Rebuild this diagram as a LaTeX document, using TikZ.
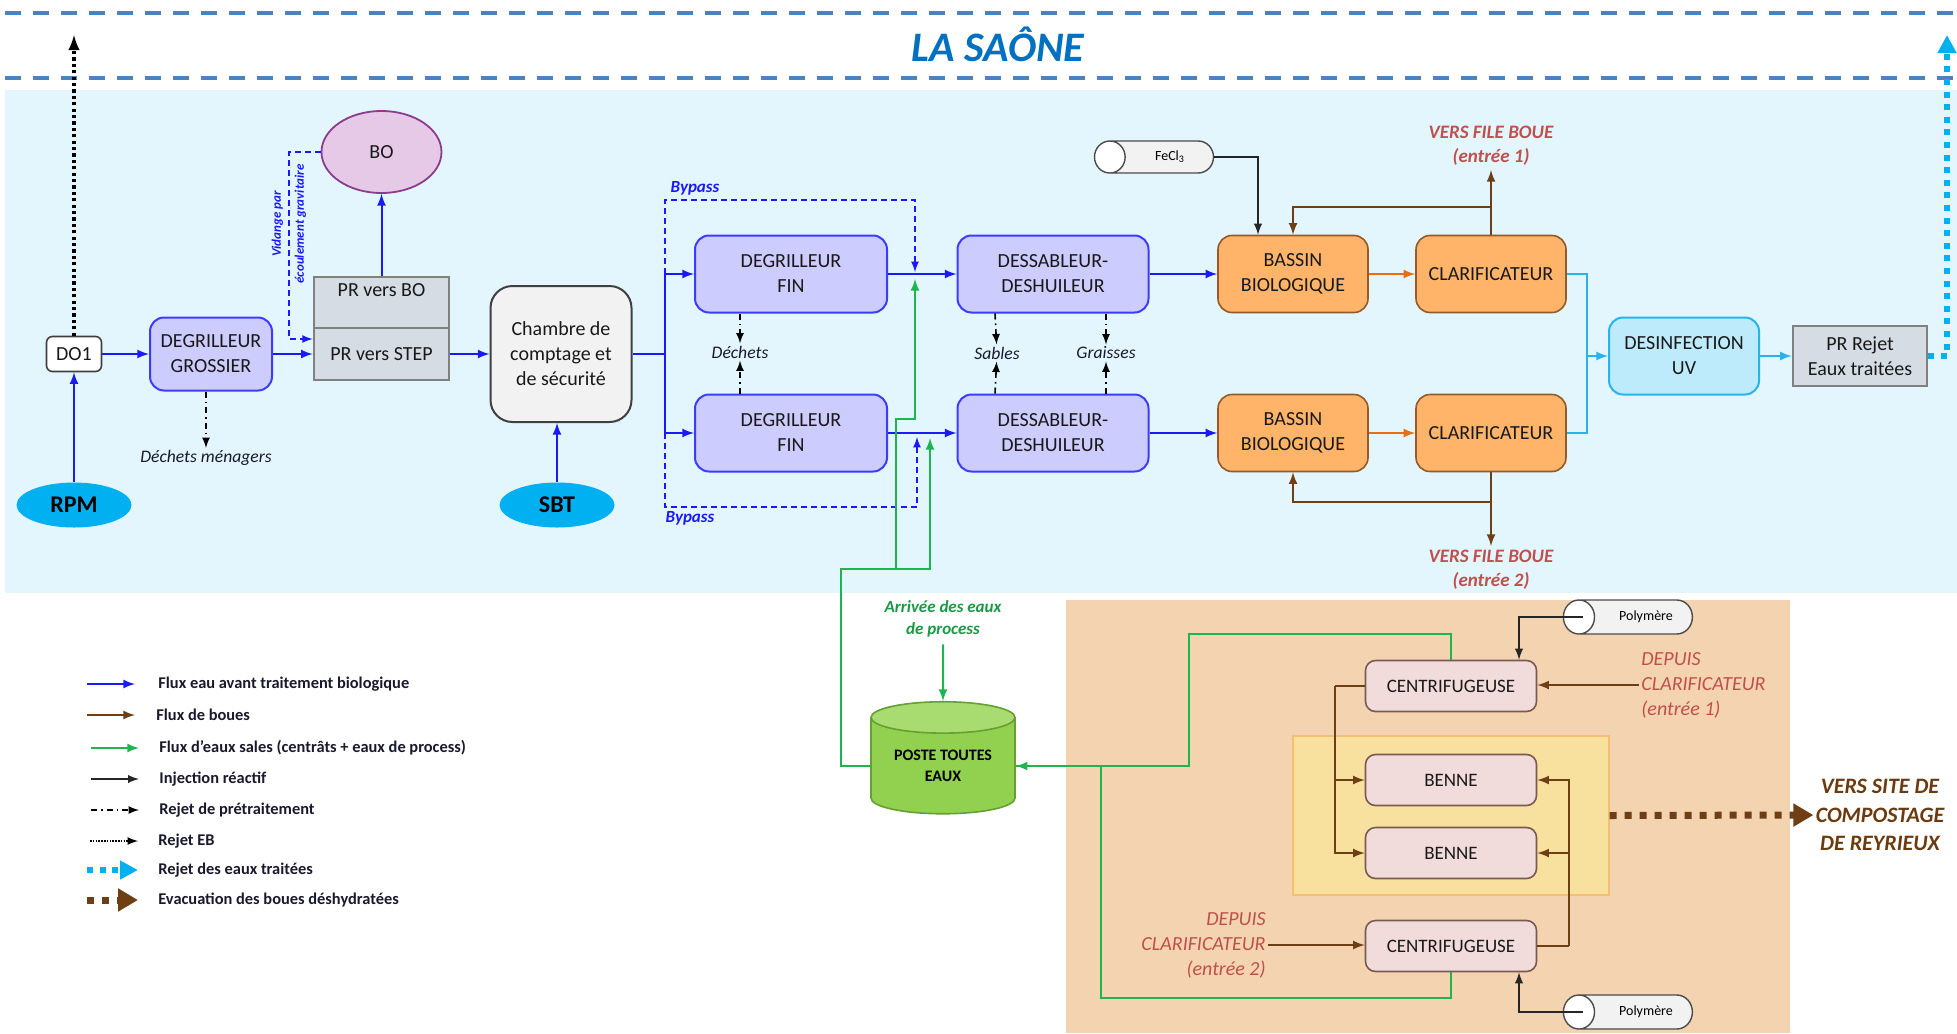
\documentclass[tikz,border=0pt]{standalone}
\usepackage{fontspec}
\setmainfont{Carlito}
\usepackage{xcolor}
\usetikzlibrary{shapes.geometric,arrows,arrows.meta}

\definecolor{bleuflux}{RGB}{25,25,250}
\definecolor{blocfill}{RGB}{204,204,255}
\definecolor{blocdraw}{RGB}{60,60,255}
\definecolor{orfill}{RGB}{255,180,105}
\definecolor{ordraw}{RGB}{150,90,40}
\definecolor{orfleche}{RGB}{230,110,20}
\definecolor{brunboue}{RGB}{110,62,20}
\definecolor{cyantrait}{RGB}{40,180,235}
\definecolor{uvfill}{RGB}{190,235,252}
\definecolor{grisfill}{RGB}{214,220,228}
\definecolor{grisdraw}{RGB}{128,128,128}
\definecolor{fondciel}{RGB}{227,246,253}
\definecolor{peche}{RGB}{244,211,176}
\definecolor{zonefill}{RGB}{248,224,158}
\definecolor{zonedraw}{RGB}{242,192,110}
\definecolor{vertsale}{RGB}{30,180,80}
\definecolor{cuvefill}{RGB}{146,208,80}
\definecolor{cuvetop}{RGB}{169,220,112}
\definecolor{cuvedraw}{RGB}{100,160,50}
\definecolor{rosefill}{RGB}{242,220,219}
\definecolor{rosedraw}{RGB}{120,90,80}
\definecolor{rougetxt}{RGB}{192,80,77}
\definecolor{riviere}{RGB}{0,176,240}
\definecolor{bofill}{RGB}{230,201,230}
\definecolor{bodraw}{RGB}{140,60,140}
\definecolor{saonetrait}{RGB}{79,129,189}
\definecolor{saonetxt}{RGB}{0,112,192}
\definecolor{compostxt}{RGB}{107,58,14}
\definecolor{legtxt}{RGB}{25,25,45}

\tikzset{
	>=latex,
	eau/.style={->, draw=bleuflux, line width=1pt},
	boue/.style={->, draw=brunboue, line width=1pt},
	boueor/.style={->, draw=orfleche, line width=1pt},
	sale/.style={->, draw=vertsale, line width=1pt},
	reactif/.style={->, draw=black!85, line width=0.9pt},
	traitee/.style={draw=cyantrait, line width=1pt},
	pretrait/.style={->, draw=black, line width=0.8pt, dash pattern=on 3pt off 2pt on 0.8pt off 2pt},
	rejeteb/.style={->, draw=black, line width=1.6pt, dash pattern=on 1.6pt off 1.6pt},
	rejet/.style={-{Triangle[length=9pt,width=9pt]}, draw=riviere, line width=3pt, dash pattern=on 3pt off 3.3pt},
	evac/.style={-{Triangle[length=10pt,width=11pt]}, draw=brunboue, line width=3.5pt, dash pattern=on 3.5pt off 4pt},
	bypass/.style={->, draw=bleuflux, line width=0.8pt, dash pattern=on 3pt off 2pt},
	saone/.style={draw=saonetrait, line width=2pt, dash pattern=on 8pt off 6pt},
	txt/.style={font=\fontsize{10}{12.5}\selectfont, align=center, text=black!90},
	bloc/.style={txt, draw=blocdraw, fill=blocfill, line width=1pt, rounded corners=7pt},
	bassin/.style={txt, draw=ordraw, fill=orfill, line width=0.8pt, rounded corners=7pt, minimum width=75pt, minimum height=38.5pt},
	uvbloc/.style={txt, draw=cyantrait, fill=uvfill, line width=1pt, rounded corners=7pt},
	prbloc/.style={txt, draw=grisdraw, fill=grisfill, line width=1.3pt, minimum width=67.5pt, inner sep=1pt},
	centri/.style={txt, font=\fontsize{9.5}{12}\selectfont, draw=rosedraw, fill=rosefill, line width=0.8pt, rounded corners=5pt, minimum width=85.5pt, minimum height=25.5pt},
	riv/.style={ellipse, fill=riviere, minimum width=57.5pt, minimum height=22.5pt, inner sep=0pt, font=\fontsize{12}{14}\selectfont\bfseries},
	reservoir/.style={cylinder, shape border rotate=180, aspect=2.6, draw=black!70, line width=0.7pt, cylinder uses custom fill, cylinder body fill=black!5, cylinder end fill=white, font=\fontsize{7}{8}\selectfont, inner sep=0pt},
	sousprod/.style={font=\fontsize{8.8}{10}\selectfont\itshape, text=legtxt, inner sep=1pt},
	versboue/.style={font=\fontsize{9.5}{12}\selectfont\bfseries\itshape, text=rougetxt, align=center, inner sep=2pt},
	depuis/.style={font=\fontsize{10}{12.5}\selectfont\itshape, text=rougetxt, inner sep=1pt},
	bplabel/.style={font=\fontsize{8.5}{10}\selectfont\bfseries\itshape, text=bleuflux},
	legende/.style={anchor=west, font=\fontsize{8.2}{9}\selectfont\bfseries, text=legtxt, inner sep=0pt}
}

\begin{document}
\begin{tikzpicture}[x=0.5pt, y=-0.5pt]
	\useasboundingbox (0,0) rectangle (1957,1033);
	% fonds
	\fill[fondciel] (5,90) rectangle (1957,593);
	\fill[peche] (1066,600) rectangle (1790,1033);
	\draw[saone] (5,13) -- (1957,13);
	\draw[saone] (5,78) -- (1957,78);
	\node[font=\fontsize{21}{24}\selectfont\bfseries\itshape, text=saonetxt] (lasaone) at (998,44) {LA SAÔNE};
	\coordinate (saone1) at (74,35);
	\coordinate (saone2) at (1947,35);

	% pretraitement
	\node[txt, draw=black!75, fill=white, line width=0.8pt, rounded corners=3pt, minimum width=27.5pt, minimum height=17.5pt, inner sep=1pt] (do1) at (74,354) {DO1};
	\node[riv] (rpm) at (74,505) {RPM};
	\node[riv] (sbt) at (557,505) {SBT};
	\node[bloc, minimum width=61pt, minimum height=36.5pt] (grossier) at (211,354) {DEGRILLEUR\\GROSSIER};
	\node[prbloc, minimum height=25.5pt, text depth=12pt] (prbo) at (381.5,302.5) {PR vers BO};
	\node[prbloc, minimum height=26pt] (prstep) at (381.5,354) {PR vers STEP};
	\node[txt, ellipse, draw=bodraw, fill=bofill, line width=0.9pt, minimum width=60pt, minimum height=41pt] (bo) at (381.5,152) {BO};
	\node[txt, draw=black!75, fill=black!5, line width=1pt, rounded corners=11pt, minimum width=70.5pt, minimum height=68pt] (chambre) at (561,354) {Chambre de\\comptage et\\de sécurité};
	\node[rotate=90, font=\fontsize{6.5}{11.5}\selectfont\bfseries\itshape, text=bleuflux, align=center] (vidange) at (289,224) {Vidange par\\écoulement gravitaire};
	\node[sousprod] (dechmen) at (206,458) {Déchets ménagers};
	\coordinate (vidh) at (289,152);

	\draw[rejeteb] (do1) -- (saone1);
	\draw[eau] (rpm) -- (do1);
	\draw[eau] (do1) -- (grossier);
	\draw[eau] (grossier.east) -- (grossier.east -| prstep.west);
	\draw[pretrait] (grossier.south -| dechmen) -- (dechmen);
	\draw[eau] (prbo) -- (bo);
	\draw[bypass] (bo.west) -- (vidh) |- ([yshift=7.5pt]prstep.west);
	\draw[eau] (prstep) -- (chambre);
	\draw[eau] (sbt) -- (sbt |- chambre.south);

	% degrilleurs et dessableurs
	\node[bloc, minimum width=96pt, minimum height=38.5pt] (fin1) at (791,274) {DEGRILLEUR\\FIN};
	\node[bloc, minimum width=96pt, minimum height=38.5pt] (fin2) at (791,433) {DEGRILLEUR\\FIN};
	\node[bloc, minimum width=95.5pt, minimum height=38.5pt] (dess1) at (1053,274) {DESSABLEUR-\\DESHUILEUR};
	\node[bloc, minimum width=95.5pt, minimum height=38.5pt] (dess2) at (1053,433) {DESSABLEUR-\\DESHUILEUR};
	\node[sousprod] (dechets) at (740,352) {Déchets};
	\node[sousprod] (sables) at (997,353) {Sables};
	\node[sousprod] (graisses) at (1106,353) {Graisses};
	\node[bplabel] (bypass1) at (695,188) {Bypass};
	\node[bplabel] (bypass2) at (690,518) {Bypass};
	\coordinate (nd) at (665,354);
	\coordinate (nh) at (665,274);
	\coordinate (nb) at (665,433);
	\coordinate (bp1) at (915,272);
	\coordinate (bp2) at (917,437);

	\draw[eau, -] (chambre.east) -- (nd);
	\draw[eau, -] (nh) -- (nb);
	\draw[eau] (nh) -- (fin1);
	\draw[eau] (nb) -- (fin2);
	\draw[bypass] (nh) -- ++(0,-74) -| (bp1);
	\draw[bypass] (nb) -- ++(0,74) -| (bp2);
	\draw[eau] (fin1) -- (dess1);
	\draw[eau] (fin2) -- (dess2);
	\draw[pretrait] (fin1.south -| dechets) -- (dechets);
	\draw[pretrait] (fin2.north -| dechets) -- (dechets);
	\draw[pretrait] ([xshift=-1pt]dess1.south -| sables) -- (sables);
	\draw[pretrait] ([xshift=-1pt]dess2.north -| sables) -- (sables);
	\draw[pretrait] (dess1.south -| graisses) -- (graisses);
	\draw[pretrait] (dess2.north -| graisses) -- (graisses);

	% biologie
	\node[bassin] (bassin1) at (1293,274) {BASSIN\\BIOLOGIQUE};
	\node[bassin] (bassin2) at (1293,433) {BASSIN\\BIOLOGIQUE};
	\node[bassin] (clar1) at (1491,274) {CLARIFICATEUR};
	\node[bassin] (clar2) at (1491,433) {CLARIFICATEUR};
	\node[reservoir, minimum width=16pt, minimum height=59.5pt] (fecl) at (1162,157) {\hspace{8pt}FeCl\textsubscript{3}};
	\node[versboue] (vfb1) at (1491,146) {VERS FILE BOUE\\(entrée 1)};
	\node[versboue] (vfb2) at (1491,570) {VERS FILE BOUE\\(entrée 2)};
	\node[uvbloc, minimum width=75pt, minimum height=38.5pt] (desinf) at (1684,356) {DESINFECTION\\UV};
	\node[prbloc, minimum width=67pt, minimum height=30pt] (prrejet) at (1860,356) {PR Rejet\\Eaux traitées};
	\coordinate (rb1) at (1491,207);
	\coordinate (rb2) at (1491,502);
	\coordinate (cj) at (1587,356);

	\draw[eau] (dess1) -- (bassin1);
	\draw[eau] (dess2) -- (bassin2);
	\draw[reactif] (fecl.east) -| ([xshift=-17.5pt]bassin1.north);
	\draw[boueor] (bassin1) -- (clar1);
	\draw[boueor] (bassin2) -- (clar2);
	\draw[boue] (clar1) -- (vfb1);
	\draw[boue] (rb1) -| (bassin1);
	\draw[boue] (clar2) -- (vfb2);
	\draw[boue] (rb2) -| (bassin2);
	\draw[traitee] (clar1.east) -| (cj) |- (clar2.east);
	\draw[traitee, ->] (cj) -- (desinf);
	\draw[traitee, ->] (desinf) -- (prrejet);
	\draw[rejet] (prrejet.east) -| (saone2);

	% eaux sales
	\node[font=\fontsize{8.5}{11}\selectfont\bfseries\itshape, text=vertsale!85!black, align=center] (arrivee) at (943,619) {Arrivée des eaux\\de process};
	\node[cylinder, shape border rotate=90, aspect=0.32, draw=cuvedraw, line width=0.8pt, cylinder uses custom fill, cylinder body fill=cuvefill, cylinder end fill=cuvetop, minimum width=72pt, minimum height=56pt, font=\fontsize{8}{10.5}\selectfont\bfseries, align=center, inner sep=0pt] (poste) at (943,766) {POSTE TOUTES\\EAUX};
	\coordinate (gs) at (896,569);
	\coordinate (gin1) at (915,279);
	\coordinate (gin2) at (930,438);
	\coordinate (gh) at (1189,634);
	\coordinate (gb) at (1101,998);

	\draw[sale] (arrivee) -- (poste);
	\draw[sale, -] (poste.west) -- ++(-29,0) |- (gs);
	\draw[sale] (gs) -- ++(0,-150) -| (gin1);
	\draw[sale] (gs) -| (gin2);

	% deshydratation
	\node[draw=zonedraw, fill=zonefill, line width=0.6pt, minimum width=158pt, minimum height=79.5pt] (zone) at (1451,815.5) {};
	\node[centri] (cen1) at (1451,686) {CENTRIFUGEUSE};
	\node[centri] (benne1) at (1451,780) {BENNE};
	\node[centri] (benne2) at (1451,853) {BENNE};
	\node[centri] (cen2) at (1451,946) {CENTRIFUGEUSE};
	\node[reservoir, minimum width=17pt, minimum height=64.5pt] (poly1) at (1636,617) {\hspace{10pt}Polymère};
	\node[reservoir, minimum width=17pt, minimum height=64.5pt] (poly2) at (1636,1012) {\hspace{10pt}Polymère};
	\node[depuis, anchor=west, align=left] (dep1) at (1639,685) {DEPUIS\\CLARIFICATEUR\\(entrée 1)};
	\node[depuis, anchor=east, align=right] (dep2) at (1268,945) {DEPUIS\\CLARIFICATEUR\\(entrée 2)};
	\node[font=\fontsize{11}{14.3}\selectfont\bfseries\itshape, text=compostxt, align=center, inner sep=1pt] (compost) at (1880,815) {VERS SITE DE\\COMPOSTAGE\\DE REYRIEUX};
	\coordinate (bg) at (1335,686);
	\coordinate (bd) at (1569,946);

	\draw[sale] (cen1.north) |- (gh) |- (poste);
	\draw[sale, -] (cen2.south) |- (gb) |- (poste.east);
	\draw[reactif] ([xshift=10pt]poly1.west) -| ([xshift=34pt]cen1.north);
	\draw[reactif] ([xshift=10pt]poly2.west) -| ([xshift=34pt]cen2.south);
	\draw[boue] (dep1.west) -- (dep1.west -| cen1.east);
	\draw[boue] (dep2.east) -- (dep2.east -| cen2.west);
	\draw[boue, -] (cen1.west) -- (bg);
	\draw[boue] (bg) |- (benne1);
	\draw[boue] (bg) |- (benne2);
	\draw[boue, -] (cen2.east) -- (bd);
	\draw[boue] (bd) |- (benne1);
	\draw[boue] (bd) |- (benne2);
	\draw[evac] (zone.east) -- (compost.west);

	% legende
	\node[legende] (leg1) at (158,684) {Flux eau avant traitement biologique};
	\node[legende] (leg2) at (156,715) {Flux de boues};
	\node[legende] (leg3) at (159,748) {Flux d’eaux sales (centrâts + eaux de process)};
	\node[legende] (leg4) at (159,779) {Injection réactif};
	\node[legende] (leg5) at (159,810) {Rejet de prétraitement};
	\node[legende] (leg6) at (158,841) {Rejet EB};
	\node[legende] (leg7) at (158,870) {Rejet des eaux traitées};
	\node[legende] (leg8) at (158,900) {Evacuation des boues déshydratées};
	\draw[eau] ([xshift=-35.5pt]leg1.west) -- ([xshift=-11.5pt]leg1.west);
	\draw[boue] ([xshift=-34.5pt]leg2.west) -- ([xshift=-10.5pt]leg2.west);
	\draw[sale] ([xshift=-34pt]leg3.west) -- ([xshift=-10pt]leg3.west);
	\draw[reactif] ([xshift=-34pt]leg4.west) -- ([xshift=-10pt]leg4.west);
	\draw[pretrait] ([xshift=-34pt]leg5.west) -- ([xshift=-10pt]leg5.west);
	\draw[rejeteb, line width=0.8pt, dash pattern=on 0.8pt off 0.6pt] ([xshift=-34pt]leg6.west) -- ([xshift=-10pt]leg6.west);
	\draw[rejet] ([xshift=-35.5pt]leg7.west) -- ([xshift=-10pt]leg7.west);
	\draw[evac] ([xshift=-35.5pt]leg8.west) -- ([xshift=-10pt]leg8.west);
\end{tikzpicture}
\end{document}
